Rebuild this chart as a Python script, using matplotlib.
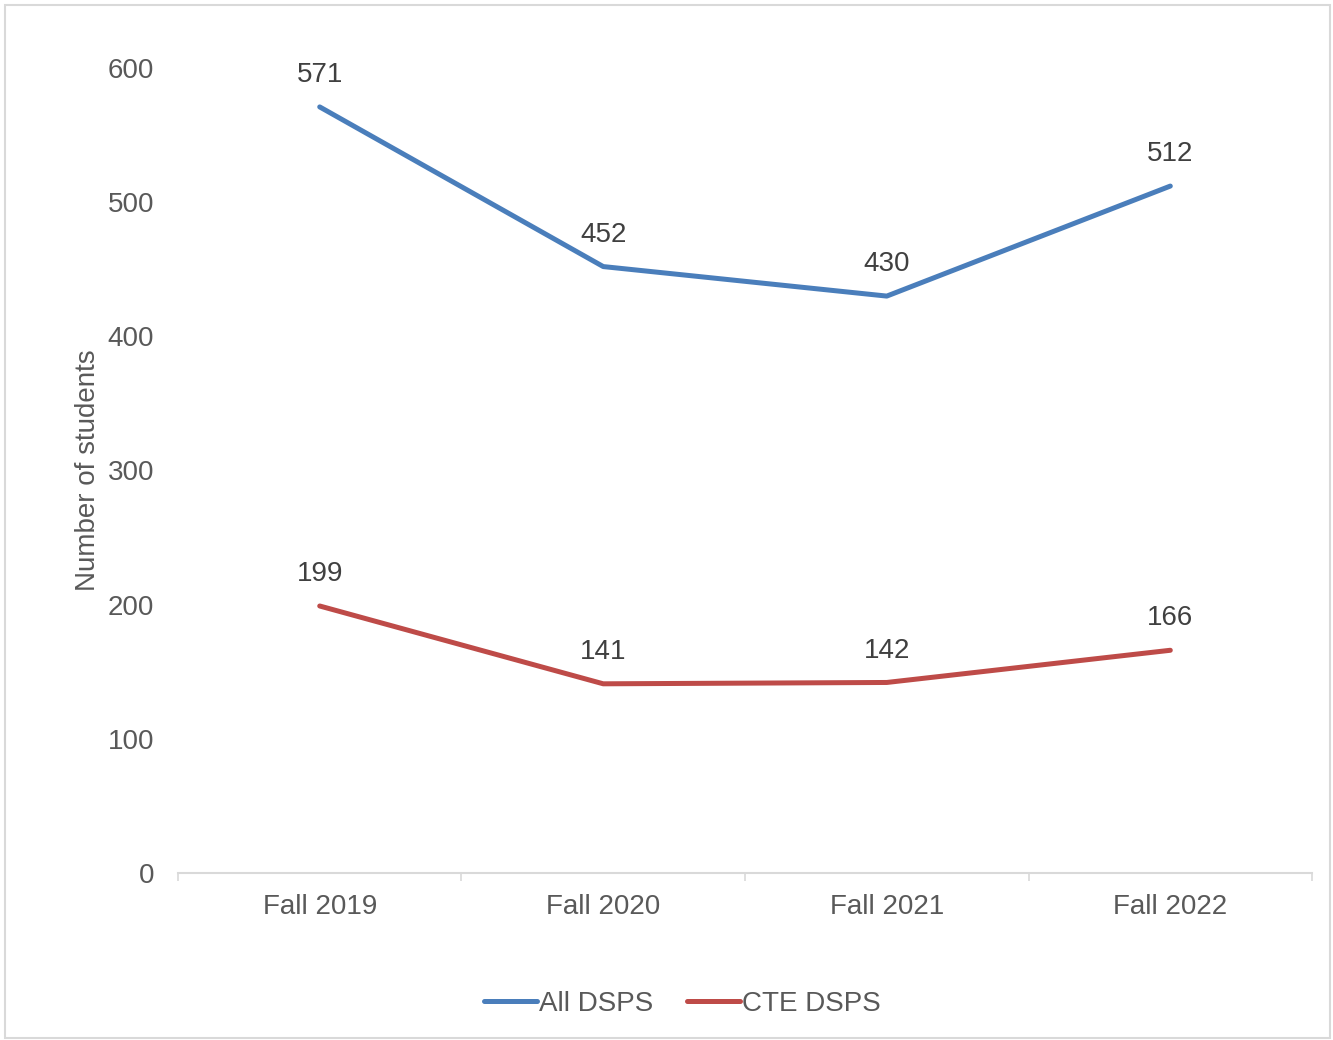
import matplotlib.pyplot as plt
from matplotlib.patches import Rectangle
import numpy as np

plt.rcParams['font.family'] = ['Liberation Sans', 'DejaVu Sans']

terms = ['Fall 2019', 'Fall 2020', 'Fall 2021', 'Fall 2022']
all_dsps = [571, 452, 430, 512]
cte_dsps = [199, 141, 142, 166]

txt = '#595959'
blue = '#4A7EBB'
red = '#BE4B48'

fig = plt.figure(figsize=(13.33, 10.4), dpi=100)
ax = fig.add_axes([0.1335, 0.1606, 0.8508, 0.774])

x = np.arange(len(terms))
ax.plot(x, all_dsps, color=blue, lw=3.6, solid_capstyle='round', label='All DSPS')
ax.plot(x, cte_dsps, color=red, lw=3.6, solid_capstyle='round', label='CTE DSPS')

for xi, v in zip(x, all_dsps):
    ax.annotate(str(v), (xi, v), xytext=(0, 23), textcoords='offset points',
                ha='center', va='center', fontsize=20, color='#404040')
for xi, v in zip(x, cte_dsps):
    ax.annotate(str(v), (xi, v), xytext=(0, 23), textcoords='offset points',
                ha='center', va='center', fontsize=20, color='#404040')

ax.set_xlim(-0.5, 3.5)
ax.set_ylim(0, 600)
ax.set_yticks(range(0, 601, 100))
ax.set_xticks(x)
ax.set_xticklabels(terms)
ax.set_xticks(np.arange(-0.5, 3.6, 1), minor=True)
ax.tick_params(axis='x', which='major', length=0, pad=15, labelsize=20, labelcolor=txt)
ax.tick_params(axis='x', which='minor', length=6, width=1.2, color='#D9D9D9', direction='out')
ax.tick_params(axis='y', length=0, pad=17, labelsize=20, labelcolor=txt)

for s in ['top', 'right', 'left']:
    ax.spines[s].set_visible(False)
ax.spines['bottom'].set_color('#D9D9D9')
ax.spines['bottom'].set_linewidth(1.5)

ax.set_ylabel('Number of students', fontsize=20, color=txt, labelpad=5)

leg = fig.legend(loc='center', bbox_to_anchor=(0.512, 0.035), ncol=2, frameon=False,
                 fontsize=20, handlelength=1.9, handletextpad=0.1, columnspacing=1.2)
for t in leg.get_texts():
    t.set_color(txt)

fig.patches.append(Rectangle((0.004, 0.002), 0.994, 0.993, transform=fig.transFigure,
                             fill=False, edgecolor='#D9D9D9', lw=1.5))

fig.savefig('out.png', dpi=100)
